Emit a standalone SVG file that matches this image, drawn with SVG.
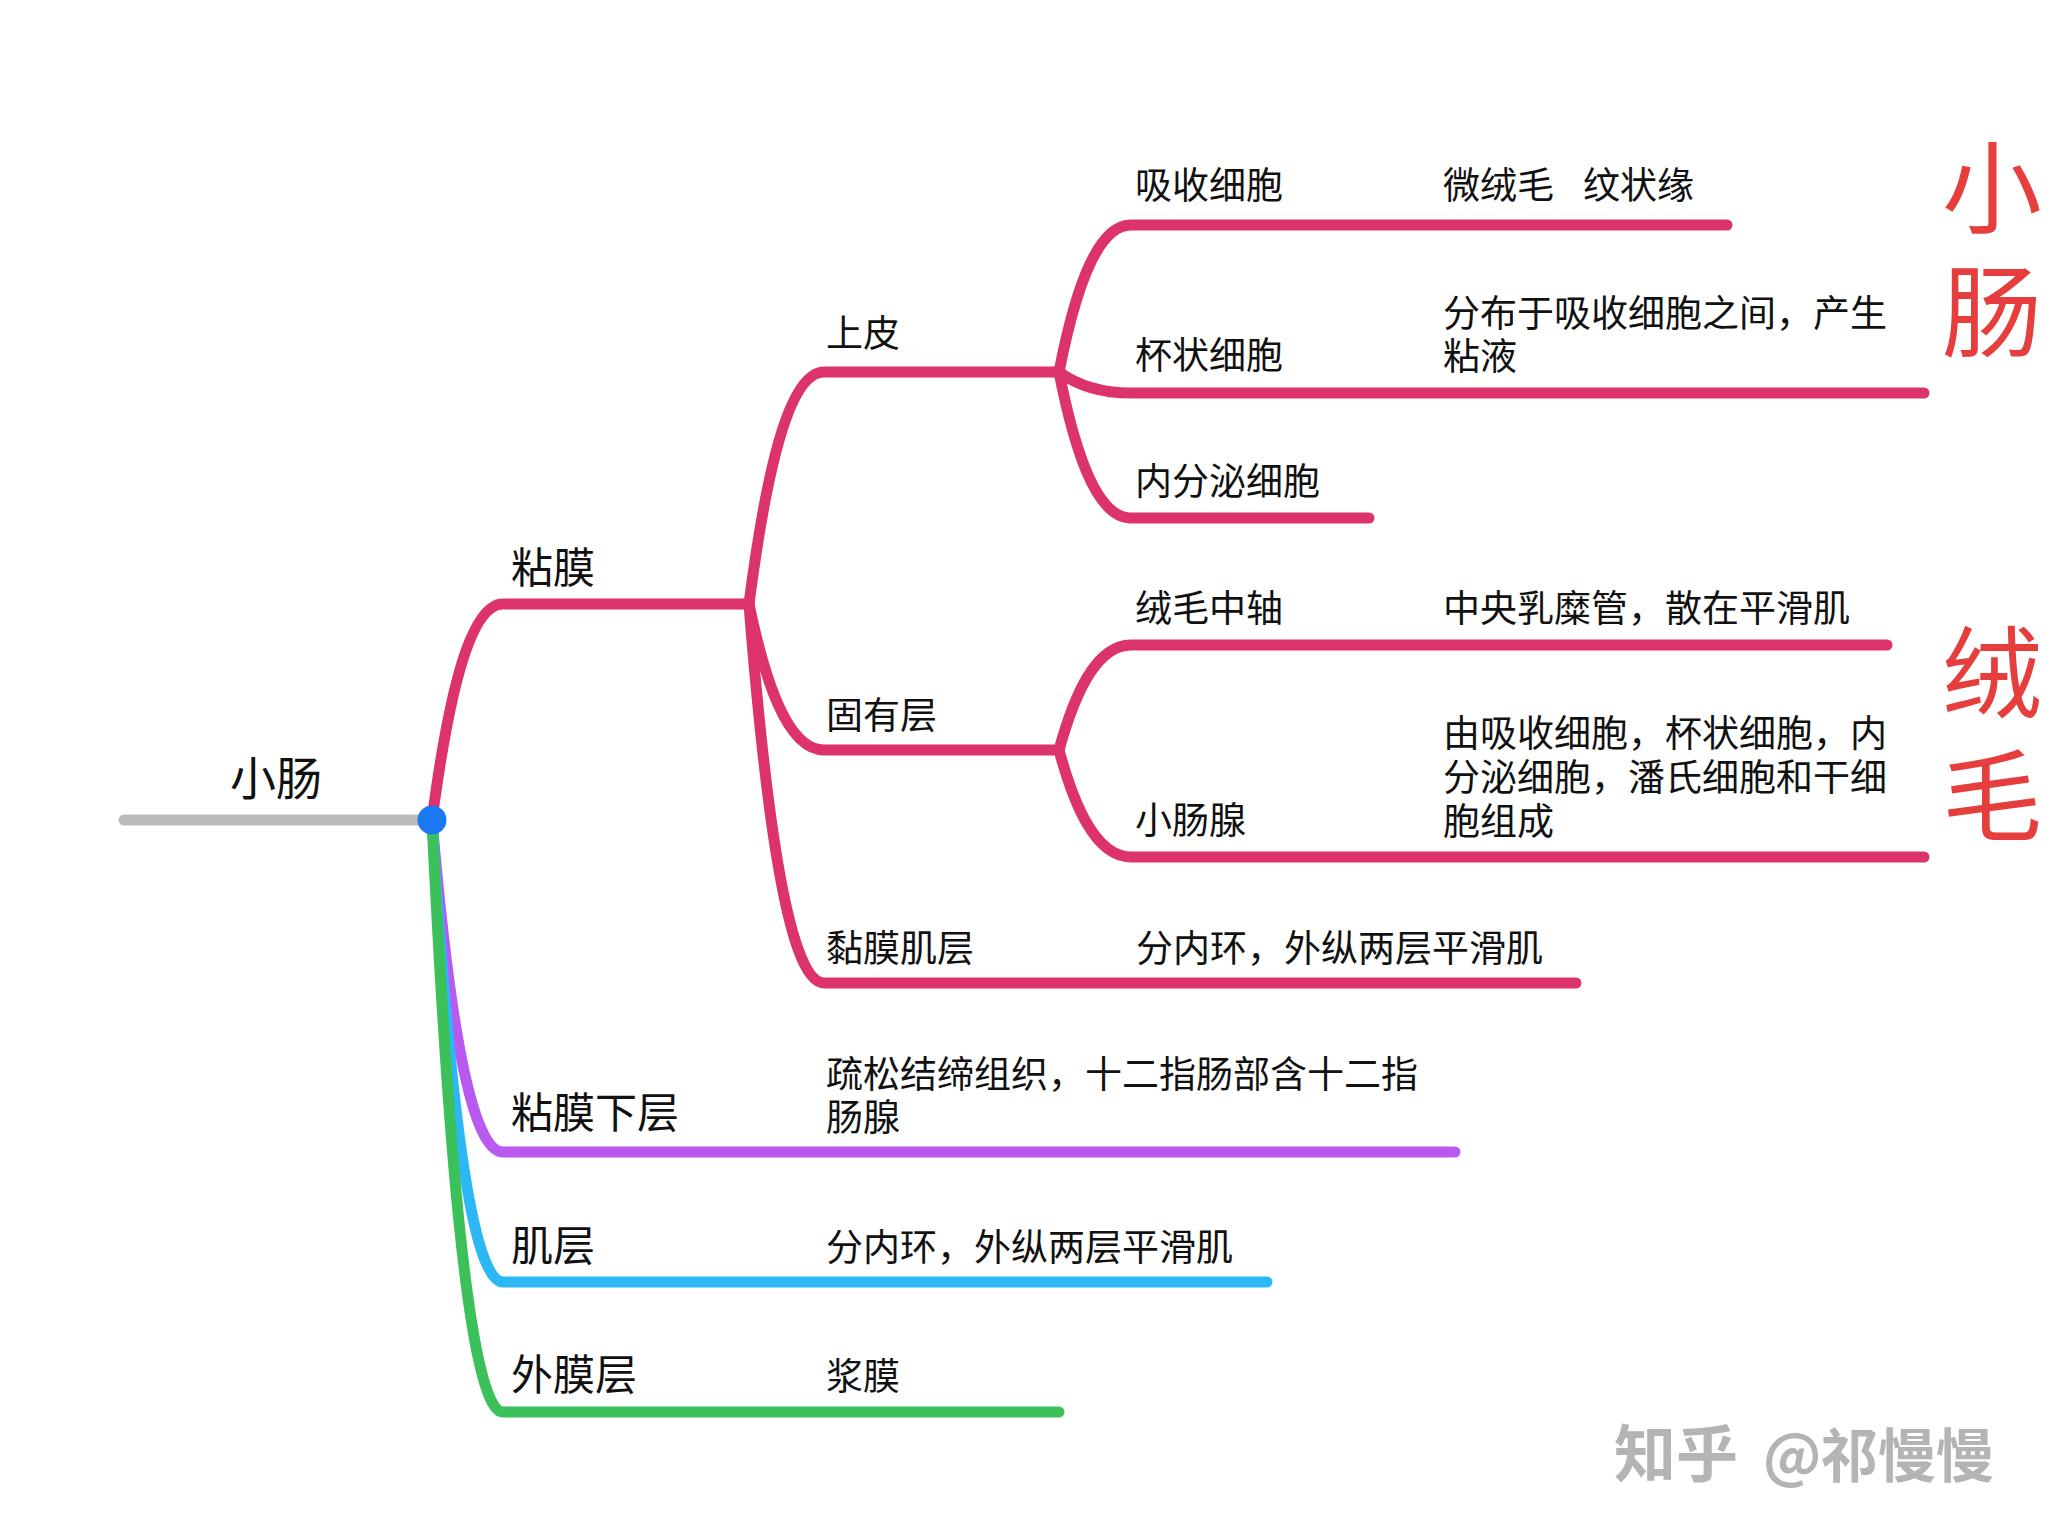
<svg xmlns="http://www.w3.org/2000/svg" width="2048" height="1537" viewBox="0 0 2048 1537">
<style>
text{font-family:"Noto Sans CJK SC","Noto Sans",sans-serif;fill:#111}
.l0{font-size:46px}
.l1{font-size:42px}
.l2{font-size:37px}
.big{font-size:100px;fill:#e63e3c;text-anchor:middle}
.wm{font-size:58px;fill:#b4b4b4;font-weight:bold}
.c{fill:none;stroke-width:11;stroke-linecap:round;stroke-linejoin:round}
.pk{stroke:#dd336c}
.pu{stroke:#b85af0}
.bl{stroke:#2bb8f5}
.gr{stroke:#3cc15a}
.gy{stroke:#bbbbbb}
</style>
<rect width="2048" height="1537" fill="#ffffff"/>
<g id="connectors">
<path class="c gy" d="M124 820 H432"/>
<path class="c pk" d="M432 820 C446.2 712 467.5 604 503 604 H749"/>
<path class="c pk" d="M749 604 C764 488 786.5 372 824 372 H1059"/>
<path class="c pk" d="M749 604 C764 677 786.5 750 824 750 H1059"/>
<path class="c pk" d="M749 604 C764 793.5 786.5 983 824 983 H1576"/>
<path class="c pk" d="M1059 372 C1073.4 298.5 1095 225 1131 225 H1727"/>
<path class="c pk" d="M1059 372 C1073.4 382.5 1095 393 1131 393 H1924"/>
<path class="c pk" d="M1059 372 C1073.4 445 1095 518 1131 518 H1369"/>
<path class="c pk" d="M1059 750 C1073.4 697.5 1095 645 1131 645 H1887"/>
<path class="c pk" d="M1059 750 C1073.4 803.5 1095 857 1131 857 H1924"/>
<path class="c pu" d="M432 820 C446.2 986 467.5 1152 503 1152 H1455"/>
<path class="c bl" d="M432 820 C446.2 1051 467.5 1282 503 1282 H1267"/>
<path class="c gr" d="M432 820 C446.2 1116 467.5 1412 503 1412 H1059"/>
</g>
<g id="root">
<text class="l0" x="230" y="795">小肠</text>
<circle cx="432" cy="820" r="14.5" fill="#1a78f2"/>
</g>
<g id="n-nianmo"><text class="l1" x="511" y="583">粘膜</text></g>
<g id="n-shangpi"><text class="l2" x="826" y="347">上皮</text></g>
<g id="n-guyouceng"><text class="l2" x="826" y="729">固有层</text></g>
<g id="n-nianmojiceng">
<text class="l2" x="826" y="962">黏膜肌层</text>
<text class="l2" x="1136" y="962">分内环，外纵两层平滑肌</text>
</g>
<g id="n-xishou">
<text class="l2" x="1135" y="199">吸收细胞</text>
<text class="l2" x="1443" y="199">微绒毛<tspan x="1583">纹状缘</tspan></text>
</g>
<g id="n-beizhuang">
<text class="l2" x="1135" y="369">杯状细胞</text>
<text class="l2" x="1443" y="327">分布于吸收细胞之间，产生</text>
<text class="l2" x="1443" y="370">粘液</text>
</g>
<g id="n-neifenmi"><text class="l2" x="1135" y="495">内分泌细胞</text></g>
<g id="n-rongmaozhongzhou">
<text class="l2" x="1135" y="622">绒毛中轴</text>
<text class="l2" x="1443" y="622">中央乳糜管，散在平滑肌</text>
</g>
<g id="n-xiaochangxian">
<text class="l2" x="1135" y="834">小肠腺</text>
<text class="l2" x="1443" y="747">由吸收细胞，杯状细胞，内</text>
<text class="l2" x="1443" y="791">分泌细胞，潘氏细胞和干细</text>
<text class="l2" x="1443" y="835">胞组成</text>
</g>
<g id="n-nianmoxiaceng">
<text class="l1" x="511" y="1128">粘膜下层</text>
<text class="l2" x="826" y="1088">疏松结缔组织，十二指肠部含十二指</text>
<text class="l2" x="826" y="1131">肠腺</text>
</g>
<g id="n-jiceng">
<text class="l1" x="511" y="1261">肌层</text>
<text class="l2" x="826" y="1261">分内环，外纵两层平滑肌</text>
</g>
<g id="n-waimoceng">
<text class="l1" x="511" y="1390">外膜层</text>
<text class="l2" x="826" y="1390">浆膜</text>
</g>
<g id="label-xiaochang">
<text class="big" x="1992" y="225">小</text>
<text class="big" x="1992" y="349">肠</text>
</g>
<g id="label-rongmao">
<text class="big" x="1992" y="710">绒</text>
<text class="big" x="1992" y="833">毛</text>
</g>
<g id="watermark">
<text class="wm" y="1477"><tspan x="1614" style="font-size:62px">知乎</tspan><tspan x="1763">@</tspan><tspan x="1820">祁慢慢</tspan></text>
</g>
</svg>
